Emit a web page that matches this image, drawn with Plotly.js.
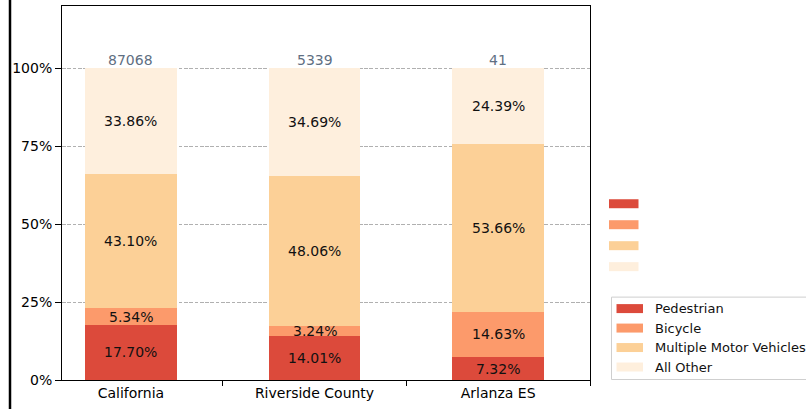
<!DOCTYPE html>
<html><head><meta charset="utf-8">
<script src="https://cdn.plot.ly/plotly-3.0.1.min.js"></script>
<style>body{margin:0;padding:0;background:#fff}#chart{width:806px;height:409px}</style>
</head><body><div id="chart"></div>
<script>
const categories = ["California", "Riverside County", "Arlanza ES"];
const totals = [87068, 5339, 41];
const seriesNames = ["Pedestrian", "Bicycle", "Multiple Motor Vehicles", "All Other"];
const pedestrian = [17.70, 14.01, 7.32];
const bicycle = [5.34, 3.24, 14.63];
const multipleMotor = [43.10, 48.06, 53.66];
const allOther = [33.86, 34.69, 24.39];
const yTickVals = [0, 25, 50, 75, 100];
const yTickText = ["0%", "25%", "50%", "75%", "100%"];

const colors = ["#dc4a3b", "#fc9a6b", "#fcd097", "#feefdd"];
const series = [pedestrian, bicycle, multipleMotor, allOther];
const FONT = "DejaVu Sans, sans-serif";

const traces = series.map((vals, i) => ({
  type: "bar", x: categories, y: vals.map(v => v / 100), name: seriesNames[i],
  marker: {color: colors[i], line: {width: 0}}, width: 0.5, showlegend: false, hoverinfo: "none"
}));

const annotations = [];
categories.forEach((c, j) => {
  let cum = 0;
  series.forEach((vals) => {
    const v = vals[j] / 100;
    annotations.push({x: c, y: cum + v / 2, xref: "x", yref: "y", text: vals[j].toFixed(2) + "%",
      showarrow: false, font: {family: FONT, size: 14, color: "#111"}});
    cum += v;
  });
  annotations.push({x: c, y: 1.0, xref: "x", yref: "y", yanchor: "bottom", yshift: -2,
    text: String(totals[j]), showarrow: false, font: {family: FONT, size: 14, color: "#5f6f82"}});
});

// plot area: x 62..590 (528px), y 5.5..380 (374.5px)
const W = 528, H = 374.5, L = 62, B = 380;
const px = x => (x - L) / W;
const py = y => (B - y) / H;

const shapes = [
  {type: "line", xref: "paper", yref: "paper", x0: px(10), x1: px(10), y0: py(415), y1: py(-5),
   line: {color: "#000", width: 2.5}}
];
// duplicate legend patches without text
[203.5, 224.5, 245.5, 266.5].forEach((yc, i) => {
  shapes.push({type: "rect", xref: "paper", yref: "paper", x0: px(609), x1: px(638.5),
    y0: py(yc + 4.5), y1: py(yc - 4.5), line: {width: 0}, fillcolor: colors[i]});
});
// legend box
shapes.push({type: "rect", xref: "paper", yref: "paper", x0: px(611.5), x1: px(812),
  y0: py(379.5), y1: py(297), line: {color: "#cfcfcf", width: 1}, fillcolor: "rgba(255,255,255,0.8)"});
[308.5, 328, 347.5, 367].forEach((yc, i) => {
  shapes.push({type: "rect", xref: "paper", yref: "paper", x0: px(616.5), x1: px(643),
    y0: py(yc + 4.5), y1: py(yc - 4.5), line: {width: 0}, fillcolor: colors[i]});
  annotations.push({xref: "paper", yref: "paper", x: px(653), y: py(yc), xanchor: "left", yanchor: "middle",
    text: seriesNames[i], showarrow: false, font: {family: FONT, size: 13, color: "#111"}});
});

const layout = {
  width: 806, height: 409, barmode: "stack",
  margin: {l: L, r: 806 - 590, t: 5.5, b: 409 - B, pad: 0},
  paper_bgcolor: "#fff", plot_bgcolor: "#fff",
  font: {family: FONT, size: 14, color: "#000"},
  xaxis: {type: "category", range: [-0.375, 2.5], tickson: "boundaries", ticks: "outside", ticklen: 5,
    tickcolor: "#000", showline: true, linecolor: "#000", linewidth: 1, mirror: true, showgrid: false,
    tickfont: {family: FONT, size: 14, color: "#000"}},
  yaxis: {range: [0, 1.2], tickvals: yTickVals.map(v => v / 100), ticktext: yTickText, ticks: "outside",
    ticklen: 6, tickcolor: "#000", showline: true, linecolor: "#000", linewidth: 1, mirror: true,
    showgrid: true, gridcolor: "#b0b0b0", griddash: "3.7px,1.6px", gridwidth: 1, zeroline: false,
    tickfont: {family: FONT, size: 14, color: "#000"}},
  shapes: shapes, annotations: annotations, showlegend: false
};
Plotly.newPlot("chart", traces, layout, {staticPlot: true, displayModeBar: false});
</script></body></html>
